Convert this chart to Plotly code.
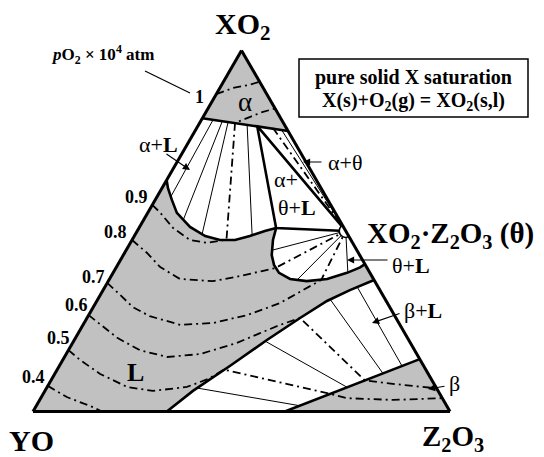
import plotly.graph_objects as go

FONT = "Liberation Serif"
GRAY = "#c1c1c1"
W, H = 544, 457

# All compositions below are (XO2, Z2O3) mole fractions; YO is the balance.

# alpha (XO2-rich solid) single-phase field
alpha_xo2 = [1.0, 0.812, 0.777]
alpha_z2o3 = [0.0, 0.0, 0.223]

# liquid boundary facing alpha+L (YO-XO2 edge -> three-phase L corner)
liq_aL_xo2 = [0.641, 0.619, 0.586, 0.550, 0.511, 0.486, 0.475, 0.475, 0.486, 0.500, 0.508]
liq_aL_z2o3 = [0.000, 0.014, 0.040, 0.070, 0.121, 0.170, 0.211, 0.247, 0.277, 0.306, 0.329]

# liquid boundary facing theta+L (L corner -> XO2-Z2O3 edge)
liq_tL_xo2 = [0.508, 0.475, 0.433, 0.406, 0.384, 0.367, 0.361, 0.367, 0.384, 0.399, 0.408]
liq_tL_z2o3 = [0.329, 0.338, 0.356, 0.375, 0.398, 0.433, 0.476, 0.522, 0.561, 0.585, 0.592]

# liquid boundary facing beta+L (YO-Z2O3 edge -> XO2-Z2O3 edge)
liq_bL_xo2 = [0.000, 0.057, 0.126, 0.198, 0.259, 0.306, 0.336, 0.364]
liq_bL_z2o3 = [0.321, 0.355, 0.409, 0.462, 0.511, 0.552, 0.592, 0.636]

# beta (Z2O3-rich solid) single-phase field
beta_xo2 = [0.000, 0.145, 0.000]
beta_z2o3 = [0.604, 0.855, 1.000]

# invariant points
theta_pt = (0.500, 0.500)      # XO2.Z2O3 compound
alpha_corner = (0.791, 0.142)
liq_corner = (0.508, 0.329)

# tie lines (solid thin)
ties_alpha_L = [((0.807, 0.028), (0.596, 0.033)),
                ((0.804, 0.052), (0.531, 0.095)),
                ((0.802, 0.067), (0.491, 0.160)),
                ((0.795, 0.116), (0.487, 0.282))]
ties_alpha_theta = [((0.782, 0.204), theta_pt)]
ties_theta_L = [(theta_pt, (0.447, 0.351)),
                (theta_pt, (0.364, 0.451)),
                (theta_pt, (0.386, 0.562))]
ties_beta_L = [((0.345, 0.605), (0.126, 0.822)),
               ((0.310, 0.558), (0.106, 0.786)),
               ((0.195, 0.459), (0.067, 0.720)),
               ((0.065, 0.361), (0.016, 0.632))]

# oxygen isobars, pO2 x 1e4 atm
isobar_levels = ["1", "0.9", "0.8", "0.7", "0.6", "0.5", "0.4"]
isobar_xo2 = {
    "1":   [0.879, 0.896, 0.904, 0.913],
    "0.9": [0.572, 0.552, 0.508, 0.475, 0.467, 0.476, 0.799, 0.816, 0.829, 0.839],
    "0.8": [0.475, 0.439, 0.400, 0.367, 0.361, 0.375, 0.389, 0.397, 0.500],
    "0.7": [0.356, 0.331, 0.289, 0.264, 0.240, 0.245, 0.267, 0.300, 0.336, 0.364, 0.500],
    "0.6": [0.267, 0.248, 0.204, 0.170, 0.151, 0.159, 0.190, 0.217, 0.240, 0.259, 0.086, 0.076, 0.064],
    "0.5": [0.170, 0.143, 0.104, 0.068, 0.057, 0.068, 0.090, 0.116, 0.049, 0.037, 0.032, 0.037],
    "0.4": [0.071, 0.040, 0.012, 0.000],
}
isobar_z2o3 = {
    "1":   [0.000, 0.032, 0.064, 0.087],
    "0.9": [0.000, 0.028, 0.082, 0.139, 0.184, 0.226, 0.085, 0.113, 0.135, 0.161],
    "0.8": [0.000, 0.054, 0.105, 0.169, 0.251, 0.309, 0.355, 0.382, 0.500],
    "0.7": [0.000, 0.036, 0.095, 0.148, 0.233, 0.309, 0.380, 0.442, 0.479, 0.509, 0.500],
    "0.6": [0.000, 0.030, 0.100, 0.171, 0.246, 0.321, 0.394, 0.436, 0.473, 0.511, 0.753, 0.830, 0.936],
    "0.5": [0.000, 0.041, 0.109, 0.192, 0.259, 0.335, 0.375, 0.400, 0.688, 0.734, 0.847, 0.963],
    "0.4": [0.000, 0.061, 0.138, 0.165],
}
# isobar segment along an alpha+theta tie line
isobar_alpha_theta = [((0.785, 0.183), theta_pt)]

DASHDOT = "8px,4px,2px,4px"


def tern(xo2, z2o3, **kw):
    yo = [1 - a - c for a, c in zip(xo2, z2o3)]
    return go.Scatterternary(a=list(xo2), b=yo, c=list(z2o3), showlegend=False,
                             hoverinfo="skip", **kw)


def seg(p, q, **kw):
    return tern([p[0], q[0]], [p[1], q[1]], mode="lines", **kw)


fig = go.Figure()

# shaded single-phase fields
fig.add_trace(tern(alpha_xo2 + [alpha_xo2[0]], alpha_z2o3 + [alpha_z2o3[0]],
                   mode="lines", fill="toself", fillcolor=GRAY, line=dict(width=0)))
liq_poly_xo2 = [liq_aL_xo2[0], 0.0] + liq_bL_xo2 + liq_tL_xo2[::-1] + liq_aL_xo2[::-1]
liq_poly_z2o3 = [liq_aL_z2o3[0], 0.0] + liq_bL_z2o3 + liq_tL_z2o3[::-1] + liq_aL_z2o3[::-1]
fig.add_trace(tern(liq_poly_xo2, liq_poly_z2o3, mode="lines", fill="toself",
                   fillcolor=GRAY, line=dict(width=0)))
fig.add_trace(tern(beta_xo2 + [beta_xo2[0]], beta_z2o3 + [beta_z2o3[0]],
                   mode="lines", fill="toself", fillcolor=GRAY, line=dict(width=0)))

# tie lines
for p, q in ties_alpha_L + ties_alpha_theta + ties_theta_L + ties_beta_L:
    fig.add_trace(seg(p, q, line=dict(color="black", width=1)))

# isobars
for lev in isobar_levels:
    fig.add_trace(tern(isobar_xo2[lev], isobar_z2o3[lev], mode="lines",
                       line=dict(color="black", width=1.8, dash=DASHDOT)))
for p, q in isobar_alpha_theta:
    fig.add_trace(seg(p, q, line=dict(color="black", width=1.8, dash=DASHDOT)))

# phase boundaries
THICK = dict(color="black", width=2.6)
fig.add_trace(tern(alpha_xo2[1:], alpha_z2o3[1:], mode="lines", line=THICK))
fig.add_trace(tern(liq_aL_xo2, liq_aL_z2o3, mode="lines", line=THICK))
fig.add_trace(tern(liq_tL_xo2, liq_tL_z2o3, mode="lines", line=THICK))
fig.add_trace(tern(liq_bL_xo2, liq_bL_z2o3, mode="lines", line=THICK))
fig.add_trace(tern(beta_xo2[:2], beta_z2o3[:2], mode="lines", line=THICK))
tri = [alpha_corner, liq_corner, theta_pt, alpha_corner]
fig.add_trace(tern([p[0] for p in tri], [p[1] for p in tri], mode="lines", line=THICK))

# compound XO2.Z2O3
fig.add_trace(tern([theta_pt[0]], [theta_pt[1]], mode="markers",
                   marker=dict(size=13, color="white", line=dict(color="black", width=1.6))))


def paper(x, y):
    return x / W, 1 - y / H


annotations = []


def label(text, x, y, size, xanchor="center"):
    px, py = paper(x, y)
    annotations.append(dict(text=text, x=px, y=py, xref="paper", yref="paper",
                            showarrow=False, xanchor=xanchor, yanchor="middle",
                            font=dict(family=FONT, size=size, color="black")))


def arrow(tip, tail):
    px, py = paper(*tip)
    annotations.append(dict(text="", x=px, y=py, xref="paper", yref="paper",
                            showarrow=True, ax=tail[0] - tip[0], ay=tail[1] - tip[1],
                            arrowhead=2, arrowsize=1.3, arrowwidth=1.1,
                            arrowcolor="black", standoff=0, startstandoff=0,
                            font=dict(family=FONT, size=12)))


label("<b>XO<sub>2</sub></b>", 243, 26, 30)
label("<b>YO</b>", 31, 440, 30)
label("<b>Z<sub>2</sub>O<sub>3</sub></b>", 453, 438, 29)
label("<b>XO<sub>2</sub>·Z<sub>2</sub>O<sub>3</sub> (θ)</b>", 365, 235, 29, xanchor="left")
label("<b><i>p</i>O<sub>2</sub> × 10<sup>4</sup> atm</b>", 102, 55, 17)
label("<b>pure solid X saturation</b>", 413, 77, 20)
label("<b>X(s)+O<sub>2</sub>(g) = XO<sub>2</sub>(s,l)</b>", 413, 101, 20)
label("<b>1</b>", 199, 97, 18)
for lev, (x, y) in zip(["0.9", "0.8", "0.7", "0.6", "0.5", "0.4"],
                       [(136, 197), (115, 232), (93, 277), (76, 305), (58, 338), (33, 377)]):
    label("<b>%s</b>" % lev, x, y, 18)
label("α", 245, 102, 27)
label("α+<b>L</b>", 158, 144, 22)
label("α+θ", 345, 162, 22)
label("α+", 286, 179, 22)
label("θ+<b>L</b>", 297, 207, 22)
label("θ+<b>L</b>", 411, 265, 22)
label("β+<b>L</b>", 423, 310, 22)
label("β", 454, 383, 22)
label("<b>L</b>", 135, 372, 26)

arrow((190, 170), (165, 153))
arrow((303, 162), (323, 162))
arrow((347, 260), (389, 260))
arrow((372, 323), (401, 313))
arrow((428, 389), (446, 386))

shapes = []
bx0, by0 = paper(299, 117)
bx1, by1 = paper(528, 59)
shapes.append(dict(type="rect", xref="paper", yref="paper", x0=bx0, y0=by0, x1=bx1, y1=by1,
                   line=dict(color="black", width=1.5), fillcolor="white"))
lx0, ly0 = paper(145, 71)
lx1, ly1 = paper(190, 93)
shapes.append(dict(type="line", xref="paper", yref="paper", x0=lx0, y0=ly0, x1=lx1, y1=ly1,
                   line=dict(color="black", width=1.2)))

axis = dict(showgrid=False, showticklabels=False, ticks="", linecolor="black",
            linewidth=3, title=dict(text=""), min=0)
fig.update_layout(
    width=W, height=H,
    margin=dict(l=0, r=0, t=0, b=0, pad=0),
    paper_bgcolor="white",
    plot_bgcolor="white",
    hovermode=False,
    ternary=dict(sum=1, bgcolor="white",
                 domain=dict(x=[0.06066, 0.82720], y=[0.09956, 0.88972]),
                 aaxis=axis, baxis=axis, caxis=axis),
    annotations=annotations,
    shapes=shapes,
)

fig.write_html("out.html")
